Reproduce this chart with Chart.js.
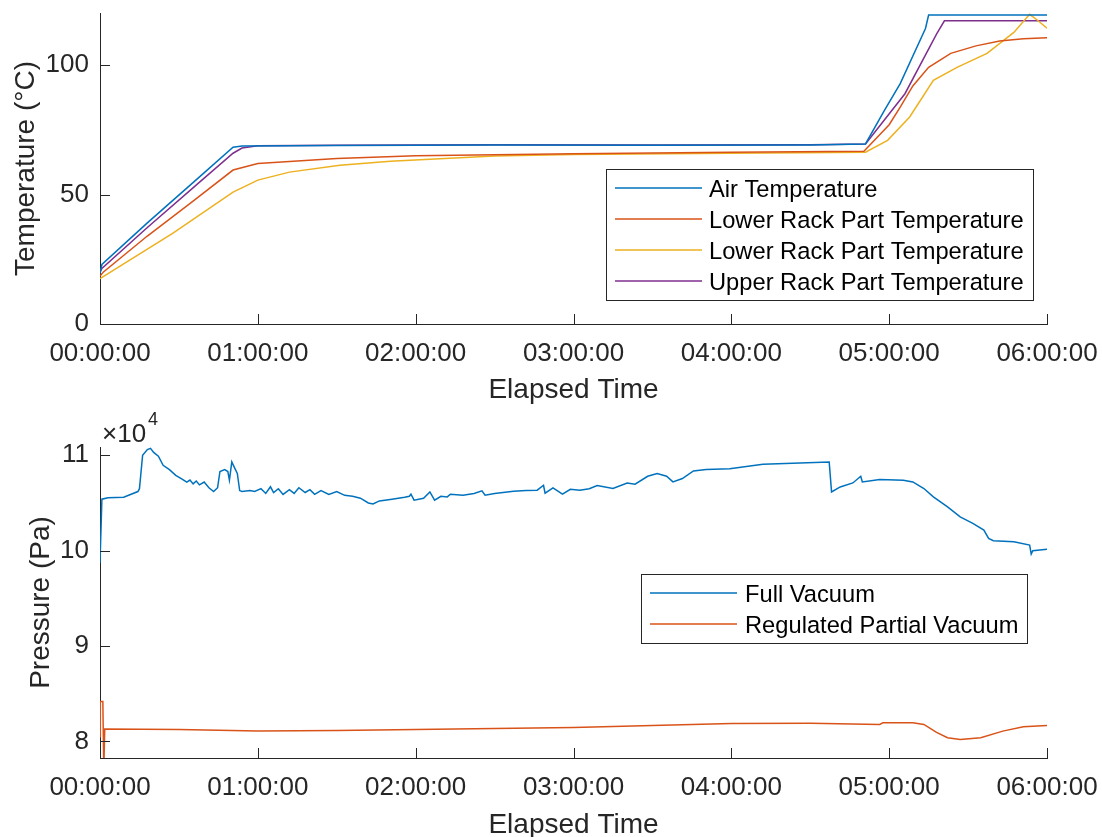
<!DOCTYPE html>
<html>
<head>
<meta charset="utf-8">
<script src="https://cdn.jsdelivr.net/npm/chart.js@4.4.0/dist/chart.umd.min.js"></script>
<style>
  html, body { margin: 0; padding: 0; background: #fff; overflow: hidden; }
  #wrap { position: relative; width: 1102px; height: 837px; }
  canvas { position: absolute; left: 0; }
</style>
</head>
<body>
<div id="wrap">
  <canvas id="tempChart" width="1102" height="420" style="top:0px"></canvas>
  <canvas id="pressChart" width="1102" height="440" style="top:400px"></canvas>
</div>
<script>
// axis ticks (hours on x)
const timeTicks = [0, 1, 2, 3, 4, 5, 6];
const timeLabels = ['00:00:00', '01:00:00', '02:00:00', '03:00:00', '04:00:00', '05:00:00', '06:00:00'];
const tempTicks = [0, 50, 100];
const pressTicks = [80000, 90000, 100000, 110000];

// temperature series (time in hours, degC)
const airTime = [0, 0.012, 0.3, 0.6, 0.843, 0.9, 1.5, 2.5, 3.5, 4.5, 4.85, 4.97, 5.07, 5.23, 5.25, 6];
const airTemp = [19.5, 23, 39.1, 55.2, 68.3, 68.8, 69.0, 69.2, 69.1, 69.2, 69.6, 82.6, 92.9, 114.2, 119.4, 119.4];

const lowerATime = [0, 0.02, 0.3, 0.6, 0.843, 1.0, 1.5, 2.0, 3.0, 4.0, 4.84, 5.0, 5.07, 5.15, 5.25, 5.39, 5.55, 5.7, 5.85, 6];
const lowerATemp = [18.5, 20, 34, 48, 59.5, 62, 64, 65, 65.8, 66.4, 66.8, 77, 83.8, 92, 99.2, 104.6, 107.5, 109.4, 110.2, 110.6];

const lowerBTime = [0, 0.46, 0.843, 1.0, 1.2, 1.52, 1.84, 2.5, 3.0, 4.0, 4.85, 4.99, 5.13, 5.28, 5.43, 5.62, 5.79, 5.89, 5.94, 6];
const lowerBTemp = [17.5, 35, 51, 55.6, 58.7, 61.4, 62.9, 64.9, 65.5, 66.0, 66.4, 71, 80, 94.2, 99.2, 104.6, 112.7, 119.7, 117.4, 114.3];

const upperTime = [0, 0.012, 0.3, 0.6, 0.843, 0.9, 1.0, 1.5, 2.5, 3.5, 4.5, 4.85, 5.1, 5.3, 5.35, 6];
const upperTemp = [20, 21.5, 37.3, 53.2, 66, 68, 68.9, 69.1, 69.3, 69.2, 69.3, 69.6, 89, 112, 117.2, 117.2];

// pressure series (time in hours, Pa)
const fullTime = [0, 0.012, 0.05, 0.15, 0.24, 0.25, 0.27, 0.30, 0.32, 0.34, 0.37, 0.40, 0.44, 0.48, 0.52, 0.55, 0.57, 0.59, 0.61, 0.63, 0.66, 0.69, 0.72, 0.745, 0.76, 0.79, 0.81, 0.82, 0.835, 0.855, 0.87, 0.885, 0.9, 0.95, 0.98,
  1.02, 1.05, 1.08, 1.1, 1.13, 1.16, 1.2, 1.23, 1.26, 1.3, 1.33, 1.36, 1.4, 1.45, 1.5, 1.55, 1.6, 1.65, 1.7, 1.73, 1.77, 1.85, 1.93, 1.96, 1.97, 1.99,
  2.05, 2.09, 2.12, 2.16, 2.2, 2.22, 2.3, 2.37, 2.42, 2.44, 2.5, 2.62, 2.7, 2.77, 2.81, 2.82, 2.87, 2.93, 2.98,
  3.04, 3.1, 3.15, 3.25, 3.34, 3.39, 3.47, 3.53, 3.59, 3.63, 3.69, 3.76, 3.84, 3.99, 4.2, 4.62, 4.635, 4.69, 4.77, 4.82, 4.83, 4.94,
  5.09, 5.15, 5.22, 5.28, 5.37, 5.45, 5.53, 5.6, 5.63, 5.66, 5.79, 5.89, 5.9, 5.91, 6];
const fullPress = [98700, 105400, 105550, 105600, 106200, 106500, 110000, 110600, 110730, 110300, 109900, 108950, 108500, 107900, 107500, 107180, 107400, 107000, 107300, 106900, 107200, 106600, 106200, 106600, 108300, 108500, 108300, 107400, 109300, 108600, 108100, 106300, 106200, 106300, 106200,
  106500, 106000, 106700, 106100, 106500, 105900, 106400, 106000, 106600, 106100, 106400, 105900, 106300, 105900, 106200, 105800, 105700, 105500, 105000, 104900, 105220, 105400, 105600, 105710, 105920, 105290,
  105500, 106160, 105290, 105700, 105640, 105920, 105820, 106000, 106270, 105820, 106000, 106230, 106300, 106340, 106860, 106030, 106580, 105920, 106440,
  106340, 106500, 106830, 106520, 107100, 106970, 107800, 108090, 107800, 107210, 107560, 108360, 108500, 108600, 109060, 109300, 106160, 106680, 107100, 107800, 107210, 107460,
  107390, 107210, 106520, 105640, 104600, 103550, 102860, 102160, 101290, 101040, 100930, 100590, 99640, 99990, 100140];

const regTime = [0, 0.002, 0.018, 0.024, 0.03, 0.5, 1.0, 1.5, 2.0, 3.0, 4.0, 4.5, 4.94, 4.96, 5.15, 5.22, 5.3, 5.37, 5.45, 5.58, 5.72, 5.85, 6];
const regPress = [80500, 84180, 84180, 77000, 81300, 81250, 81080, 81150, 81250, 81460, 81880, 81900, 81780, 81950, 81950, 81780, 80940, 80390, 80210, 80390, 81080, 81540, 81670];

const AXIS_COLOR = '#262626';
const FONT = "'Liberation Sans', Arial, Helvetica, sans-serif";
const COLORS = ['#0072BD', '#D95319', '#EDB120', '#7E2F8E'];

function pts(xs, ys) {
  return xs.map((x, i) => ({ x: x, y: ys[i] }));
}

// inward ticks, boxed legend and exponent label drawn MATLAB style
const matlabAxes = {
  id: 'matlabAxes',
  afterDraw(chart, args, opts) {
    const ctx = chart.ctx;
    const { left, bottom } = chart.chartArea;
    const xs = chart.scales.x, ys = chart.scales.y;
    ctx.save();
    ctx.strokeStyle = AXIS_COLOR;
    ctx.lineWidth = 1;
    ctx.beginPath();
    xs.ticks.forEach(t => {
      const px = Math.round(xs.getPixelForValue(t.value)) + 0.5;
      ctx.moveTo(px, bottom);
      ctx.lineTo(px, bottom - 10);
    });
    ys.ticks.forEach(t => {
      const py = Math.round(ys.getPixelForValue(t.value)) + 0.5;
      ctx.moveTo(left, py);
      ctx.lineTo(left + 10, py);
    });
    ctx.stroke();

    const lg = opts.legend;
    if (lg) {
      ctx.fillStyle = '#fff';
      ctx.fillRect(lg.x, lg.y, lg.w, lg.h);
      ctx.strokeStyle = AXIS_COLOR;
      ctx.strokeRect(lg.x + 0.5, lg.y + 0.5, lg.w, lg.h);
      ctx.font = '23.7px ' + FONT;
      ctx.textBaseline = 'middle';
      ctx.textAlign = 'left';
      chart.data.datasets.forEach((ds, i) => {
        const y = lg.rowY + i * lg.rowGap;
        ctx.strokeStyle = ds.borderColor;
        ctx.lineWidth = 1.5;
        ctx.beginPath();
        ctx.moveTo(lg.lineX0, y);
        ctx.lineTo(lg.lineX1, y);
        ctx.stroke();
        ctx.fillStyle = '#000';
        ctx.fillText(ds.label, lg.textX, y + 2);
      });
    }

    if (opts.exponent) {
      ctx.fillStyle = AXIS_COLOR;
      ctx.textBaseline = 'alphabetic';
      ctx.textAlign = 'left';
      ctx.font = '26px ' + FONT;
      ctx.fillText('\u00d710', 102, opts.exponent.y);
      ctx.font = '18px ' + FONT;
      ctx.fillText('4', 148, opts.exponent.y - 17);
    }
    ctx.restore();
  }
};

function xScale(height) {
  return {
    type: 'linear', min: 0, max: 6,
    afterBuildTicks: s => { s.ticks = timeTicks.map(v => ({ value: v })); },
    afterFit: s => { s.height = height; s.paddingLeft = 0; s.paddingRight = 0; },
    grid: { display: false, drawTicks: false },
    border: { display: true, color: AXIS_COLOR, width: 1 },
    ticks: {
      padding: 14, color: AXIS_COLOR, maxRotation: 0, autoSkip: false,
      font: { family: FONT, size: 26 },
      callback: (v, i) => timeLabels[i]
    },
    title: { display: true, text: 'Elapsed Time', color: AXIS_COLOR, padding: 0, font: { family: FONT, size: 28, lineHeight: 1 } }
  };
}

function yScale(min, max, tickList, fmt, title, titlePad) {
  return {
    type: 'linear', min: min, max: max,
    afterBuildTicks: s => { s.ticks = tickList.map(v => ({ value: v })); },
    afterFit: s => { s.width = 100; s.paddingTop = 0; s.paddingBottom = 0; },
    grid: { display: false, drawTicks: false },
    border: { display: true, color: AXIS_COLOR, width: 1 },
    ticks: { padding: 11, color: AXIS_COLOR, font: { family: FONT, size: 26 }, callback: fmt },
    title: { display: true, text: title, color: AXIS_COLOR, padding: { top: titlePad, bottom: 0 }, font: { family: FONT, size: 28, lineHeight: 1 } }
  };
}

function lineSet(label, data, color) {
  return { label: label, data: data, borderColor: color, backgroundColor: color, borderWidth: 1.5, pointRadius: 0, tension: 0, fill: false };
}

new Chart(document.getElementById('tempChart'), {
  type: 'line',
  data: {
    datasets: [
      lineSet('Air Temperature', pts(airTime, airTemp), COLORS[0]),
      lineSet('Lower Rack Part Temperature', pts(lowerATime, lowerATemp), COLORS[1]),
      lineSet('Lower Rack Part Temperature', pts(lowerBTime, lowerBTemp), COLORS[2]),
      lineSet('Upper Rack Part Temperature', pts(upperTime, upperTemp), COLORS[3])
    ]
  },
  options: {
    responsive: false, animation: false, devicePixelRatio: 1,
    layout: { padding: { top: 13, right: 55, bottom: 16, left: 0 } },
    plugins: {
      legend: { display: false }, tooltip: { enabled: false },
      matlabAxes: { legend: { x: 606, y: 169, w: 427, h: 131, rowY: 188, rowGap: 31, lineX0: 615, lineX1: 702, textX: 709 } }
    },
    scales: {
      x: xScale(80),
      y: yScale(0, 120.2, tempTicks, v => String(v), 'Temperature (\u00b0C)', 12)
    }
  },
  plugins: [matlabAxes]
});

new Chart(document.getElementById('pressChart'), {
  type: 'line',
  data: {
    datasets: [
      lineSet('Full Vacuum', pts(fullTime, fullPress), COLORS[0]),
      lineSet('Regulated Partial Vacuum', pts(regTime, regPress), COLORS[1])
    ]
  },
  options: {
    responsive: false, animation: false, devicePixelRatio: 1,
    layout: { padding: { top: 47, right: 55, bottom: 1, left: 0 } },
    plugins: {
      legend: { display: false }, tooltip: { enabled: false },
      matlabAxes: {
        legend: { x: 641, y: 174, w: 386, h: 69, rowY: 193, rowGap: 31, lineX0: 650, lineX1: 737, textX: 745 },
        exponent: { y: 42 }
      }
    },
    scales: {
      x: xScale(81),
      y: yScale(78260, 110870, pressTicks, v => String(v / 10000), 'Pressure (Pa)', 27)
    }
  },
  plugins: [matlabAxes]
});
</script>
</body>
</html>
